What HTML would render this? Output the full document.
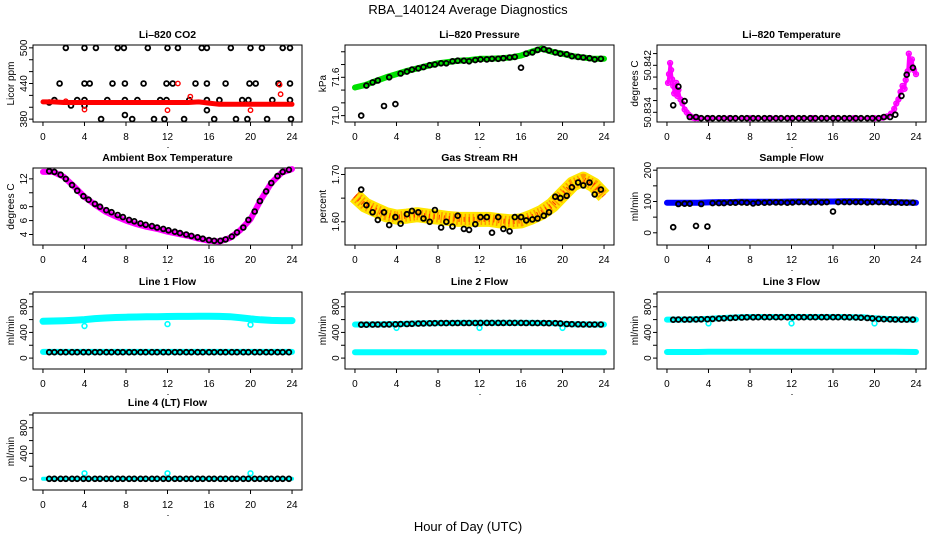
<!DOCTYPE html>
<html><head><meta charset="utf-8"><style>
html,body{margin:0;padding:0;background:#fff;}
svg{display:block;font-family:"Liberation Sans",sans-serif;}
</style></head><body>
<svg id="fig" width="936" height="540" viewBox="0 0 936 540">
<rect width="936" height="540" fill="#fff"/>
<text x="468" y="14" text-anchor="middle" font-size="13">RBA_140124  Average Diagnostics</text>
<text x="468" y="531" text-anchor="middle" font-size="13">Hour of Day (UTC)</text>
</svg>
<script>
const hours = [0,1,2,3,4,5,6,7,8,9,10,11,12,13,14,15,16,17,18,19,20,21,22,23,24];
const blackX = [0.6,1.1,1.7,2.2,2.8,3.3,3.9,4.4,5.0,5.5,6.1,6.6,7.2,7.7,8.3,8.8,9.4,9.9,10.5,11.0,11.6,12.1,12.7,13.2,13.8,14.3,14.9,15.4,16.0,16.5,17.1,17.6,18.2,18.7,19.3,19.8,20.4,20.9,21.5,22.0,22.6,23.1,23.7];
const xTicks = [0,4,8,12,16,20,24];

// CO2
const co2Red = [409,409,408,408,408,408,408,408,408,408,408,408,408,408,408,409,407,405,405,405,405,405,405,405,405];
const co2RedOutX = [2.2,4.0,12.0,13.0,14.2,20.0,22.8,22.9];
const co2RedOutY = [410,396,395,440,418,395,438,422];
const co2BlkX = [2.2,4,5.1,7.2,7.8,10.1,12,13,15.3,15.8,18.1,20,21.1,23.1,23.8, 1.6,4,4.5,6.7,7.9,9.7,11.9,12.5,14.7,15.8,17.6,19.9,20.5,22.7,23.8, 0.6,1.1,2.7,3.3,4,4,6.2,7.9,9.1,11.3,11.9,14.1,15.8,17,19.2,19.8,22.1,23.8, 5.6,8.6,10.7,11.7,13.6,16.5,18.6,19.7,21.6,23.9,7.9,15.8];
const co2BlkY = [500,500,500,500,500,500,500,500,500,500,500,500,500,500,500, 440,440,440,440,440,440,440,440,440,440,440,440,440,440,440, 408,412,403,412,412,403,412,412,412,412,412,412,412,412,412,412,412,412, 380,380,380,380,380,380,380,380,380,380,387,395];

// Pressure
const presGreen = [71.44,71.48,71.54,71.60,71.65,71.70,71.74,71.78,71.82,71.84,71.86,71.87,71.89,71.89,71.90,71.91,71.94,72.00,72.05,72.00,71.97,71.93,71.91,71.89,71.89];
const presBlk = [71.00,71.47,71.52,71.55,71.15,71.60,71.18,71.66,71.69,71.72,71.74,71.76,71.79,71.80,71.82,71.82,71.85,71.86,71.86,71.85,71.87,71.88,71.88,71.89,71.89,71.90,71.91,71.92,71.75,71.97,71.99,72.03,72.04,72.02,71.99,71.97,71.96,71.93,71.92,71.91,71.90,71.88,71.89];

// Li-820 temperature
const tMagX = [0.1,0.2,0.3,0.4,0.5,0.6,0.7,0.9,1.0,1.1,1.3,1.5,1.7,1.9,2.1,2.3,2.5,2.7,3,4,6,8,10,12,14,16,18,20,20.8,21.2,21.6,21.9,22.1,22.3,22.5,22.7,22.9,23.0,23.2,23.3,23.5,23.6,23.8,24.0];
const tMagY = [50.8390,50.8405,50.8424,50.8412,50.8396,50.8385,50.8372,50.8390,50.8368,50.8378,50.8362,50.8355,50.8345,50.8340,50.8336,50.8333,50.8331,50.8330,50.8330,50.8330,50.8330,50.8330,50.8330,50.8330,50.8330,50.8330,50.8330,50.8330,50.8331,50.8333,50.8338,50.8346,50.8355,50.8362,50.8375,50.8385,50.8380,50.8395,50.8410,50.8440,50.8420,50.8430,50.8412,50.8405];
const tBlk = [50.8352,50.8384,50.8359,50.8332,50.8332,50.8330,50.8330,50.8330,50.8330,50.8330,50.8330,50.8330,50.8330,50.8330,50.8330,50.8330,50.8330,50.8330,50.8330,50.8330,50.8330,50.8330,50.8330,50.8330,50.8330,50.8330,50.8330,50.8330,50.8330,50.8330,50.8330,50.8330,50.8330,50.8330,50.8330,50.8330,50.8330,50.8332,50.8332,50.8336,50.8368,50.8404,50.8416];

// Ambient box temperature
const boxMag = [13.0,13.0,12.3,10.9,9.4,8.3,7.3,6.6,6.0,5.5,5.1,4.8,4.4,4.1,3.8,3.4,3.1,3.0,3.5,4.6,6.2,9.0,11.4,12.9,13.4];
const boxBlk = [13.1,13.0,12.6,12.0,11.1,10.3,9.5,9.0,8.4,8.0,7.5,7.2,6.8,6.5,6.1,5.9,5.6,5.4,5.2,5.0,4.8,4.6,4.4,4.2,4.0,3.8,3.6,3.4,3.2,3.1,3.1,3.3,3.7,4.3,5.0,6.1,7.3,8.8,10.2,11.4,12.4,13.0,13.3];

// Gas stream RH
const rhBand = [1.655,1.635,1.625,1.615,1.610,1.612,1.615,1.612,1.610,1.607,1.605,1.605,1.605,1.605,1.602,1.600,1.602,1.610,1.620,1.635,1.658,1.680,1.690,1.678,1.655];
const rhBlk = [1.668,1.635,1.620,1.604,1.620,1.593,1.610,1.596,1.616,1.623,1.620,1.607,1.600,1.625,1.588,1.600,1.590,1.613,1.585,1.583,1.595,1.610,1.610,1.577,1.610,1.585,1.580,1.610,1.610,1.603,1.605,1.607,1.613,1.620,1.653,1.650,1.655,1.673,1.683,1.677,1.683,1.658,1.668];

// Sample flow
const sfBlue = [96,96,96,96,97,98,98,99,99,99,99,99,100,100,100,100,100,101,101,101,100,99,98,97,96];
const sfBlk = [18,92,93,93,22,92,20,95,95,95,96,96,97,96,94,96,96,97,97,97,96,97,98,98,97,98,97,98,68,98,98,98,98,98,97,98,98,98,97,97,96,96,96];

// Line flows
const l1Hi = [574,578,582,590,600,615,625,632,638,641,643,645,648,650,650,651,651,650,645,630,610,596,588,585,584];
const l1Lo = [97,97,97,97,97,97,97,97,97,97,97,97,97,97,97,97,97,97,97,97,97,97,97,97,97];
const l1OutX = [4,12,20];
const l1OutY = [500,530,520];
const l1Blk = [92,92,92,92,92,92,92,92,92,92,92,92,92,92,92,92,92,92,92,92,92,92,92,92,92,92,92,92,92,92,92,92,92,92,92,92,92,92,92,92,92,92,92];

const l2Hi = [523,524,525,527,530,535,540,544,546,547,548,548,549,549,549,549,549,548,547,545,535,528,525,524,523];
const l2Lo = [90,90,90,90,90,90,90,90,90,90,90,90,90,90,90,90,90,90,90,90,90,90,90,90,90];
const l2OutX = [4,12,20];
const l2OutY = [470,470,470];
const l2Blk = [520,521,522,523,524,525,526,530,532,535,538,540,542,544,545,546,546,547,547,547,547,548,548,548,548,548,548,548,548,547,547,546,545,544,543,540,532,528,526,525,524,523,523];

const l3Hi = [600,600,602,605,610,620,630,636,640,640,640,640,640,640,640,640,640,640,638,635,620,610,605,602,600];
const l3Lo = [95,95,95,95,98,98,98,98,98,98,98,98,98,98,98,98,98,98,98,98,98,98,98,96,95];
const l3OutX = [4,12,20];
const l3OutY = [540,540,540];
const l3Blk = [598,600,600,602,603,604,606,610,615,620,625,630,632,635,636,637,638,638,638,638,638,638,638,638,638,638,638,638,638,638,638,636,634,630,625,618,610,606,604,602,600,600,600];

const l4Cyan = [5,5,5,5,5,5,5,5,5,5,5,5,5,5,5,5,5,5,5,5,5,5,5,5,5];
const l4OutX = [4,12,20];
const l4OutY = [90,90,90];
const l4Blk = [5,5,5,5,5,5,5,5,5,5,5,5,5,5,5,5,5,5,5,5,5,5,5,5,5,5,5,5,5,5,5,5,5,5,5,5,5,5,5,5,5,5,5];

const NS = "http://www.w3.org/2000/svg";
const svg = document.getElementById('fig');
const W = 269, H = 77;
const rowTop = [45, 168, 292, 413];
const BR = 2.4, BW = 1.8;

function mk(tag, attrs, parent) {
  const e = document.createElementNS(NS, tag);
  for (const k in attrs) e.setAttribute(k, attrs[k]);
  (parent || svg).appendChild(e);
  return e;
}
function makePanel(col, row, title, ylab, top, bot, yTicks, yLabels, name) {
  const g = mk('g', {});
  
  
  const p = { x0: 33 + 312 * col, y0: rowTop[row], top: top, bot: bot, g: g };
  p.sx = h => p.x0 + (h + 0.96) / 25.92 * W;
  p.sy = v => p.y0 + (top - v) / (top - bot) * H;
  const t = mk('text', { x: p.x0 + W / 2, y: p.y0 - 7, 'text-anchor': 'middle', 'font-size': 10.5, 'font-weight': 'bold' }, g);
  t.textContent = title;
  
  
  const bx = mk('rect', { x: p.x0, y: p.y0, width: W, height: H, fill: 'none', stroke: '#000', 'stroke-width': 1 }, g);
  
  
  const xa = mk('g', {}, g);
  
  
  xTicks.forEach(v => {
    const x = p.sx(v);
    mk('line', { x1: x, x2: x, y1: p.y0 + H, y2: p.y0 + H + 4, stroke: '#000' }, xa);
    const tl = mk('text', { x: x, y: p.y0 + H + 18, 'text-anchor': 'middle', 'font-size': 10 }, xa);
    tl.textContent = v;
  });
  mk('rect', { x: p.x0 + W / 2, y: p.y0 + H + 25, width: 1, height: 1, fill: '#000' }, xa);
  const ya = mk('g', {}, g);
  
  
  yTicks.forEach(v => {
    const y = p.sy(v);
    mk('line', { x1: p.x0 - 4, x2: p.x0, y1: y, y2: y, stroke: '#000' }, ya);
  });
  yLabels.forEach(v => {
    const y = p.sy(v);
    const tl = mk('text', { x: 0, y: 0, 'text-anchor': 'middle', 'font-size': 10, transform: 'translate(' + (p.x0 - 6) + ',' + y + ') rotate(-90)' }, ya);
    tl.textContent = v;
  });
  const yl = mk('text', { x: 0, y: 0, 'text-anchor': 'middle', 'font-size': 10, transform: 'translate(' + (p.x0 - 19) + ',' + (p.y0 + H / 2) + ') rotate(-90)' }, g);
  yl.textContent = ylab;
  
  
  p.plot = mk('g', {}, g);
  return p;
}
function band(p, xs, ys, color, width, name) {
  const pts = xs.map((h, i) => p.sx(h).toFixed(1) + ',' + p.sy(ys[i]).toFixed(1)).join(' ');
  const pl = mk('polyline', { points: pts, fill: 'none', stroke: color, 'stroke-width': width, 'stroke-linejoin': 'round', 'stroke-linecap': 'round' }, p.plot);
  
  
  return pl;
}
function points(p, xs, ys, color, r, sw, name) {
  const g = mk('g', {}, p.plot);
  
  
  xs.forEach((h, i) => {
    const c = mk('circle', { cx: p.sx(h).toFixed(1), cy: p.sy(ys[i]).toFixed(1), r: r, fill: 'none', stroke: color, 'stroke-width': sw }, g);
    
    
  });
}
const lineTicks = [0,200,400,600,800,1000];
const lineLabels = [0,400,800];

// Panel 1: CO2
let p = makePanel(0, 0, 'Li–820 CO2', 'Licor ppm', 504.8, 375.2, [380,400,420,440,460,480,500], [380,440,500], 'co2');
points(p, co2BlkX, co2BlkY, '#000', BR, BW, 'co2-black-series');
band(p, hours, co2Red, '#ff0000', 5, 'co2-red-band');
points(p, co2RedOutX, co2RedOutY, '#ff0000', 2.2, 1.4, 'co2-red-outliers');

// Panel 2: Pressure
p = makePanel(1, 0, 'Li–820 Pressure', 'kPa', 72.106, 70.90, [71.0,71.2,71.4,71.6,71.8,72.0], ['71.0','71.6'], 'pressure');
band(p, hours, presGreen, '#00e000', 6, 'pressure-green-band');
points(p, blackX, presBlk, '#000', BR, BW, 'pressure-black-series');

// Panel 3: Li-820 Temperature
p = makePanel(2, 0, 'Li–820 Temperature', 'degrees C', 50.84546, 50.83235, [50.834,50.836,50.838,50.840,50.842,50.844], ['50.834','50.842'], 'li820-temp');
band(p, tMagX, tMagY, '#ff00ff', 3, 'li820-temp-magenta-band');
points(p, tMagX, tMagY, '#ff00ff', 2.4, 1.5, 'li820-temp-magenta-series');
points(p, blackX, tBlk, '#000', BR, BW, 'li820-temp-black-series');

// Panel 4: Ambient box temperature
p = makePanel(0, 1, 'Ambient Box Temperature', 'degrees C', 13.56, 2.49, [4,6,8,10,12], [4,6,8,12], 'box-temp');
band(p, hours, boxMag, '#ff00ff', 6, 'box-temp-magenta-band');
points(p, blackX, boxBlk, '#000', BR, BW, 'box-temp-black-series');

// Panel 5: RH
p = makePanel(1, 1, 'Gas Stream RH', 'percent', 1.7137, 1.551, [1.60,1.65,1.70], ['1.60','1.70'], 'rh');
const yb = band(p, hours, rhBand, '#ffe600', 15, 'rh-yellow-band');
yb.setAttribute('stroke-linecap', 'butt');
const rb = band(p, hours, rhBand, '#ff9900', 11, 'rh-orange-band');
rb.setAttribute('stroke-dasharray', '1.5 2.5');
rb.setAttribute('stroke-linecap', 'butt');
const rr = band(p, hours, rhBand, '#ff3300', 5, 'rh-red-speckle');
rr.setAttribute('stroke-dasharray', '1 4');
rr.setAttribute('stroke-linecap', 'butt');
points(p, blackX, rhBlk, '#000', BR, BW, 'rh-black-series');

// Panel 6: Sample flow
p = makePanel(2, 1, 'Sample Flow', 'ml/min', 207, -39, [0,50,100,150,200], [0,100,200], 'sample-flow');
band(p, hours, sfBlue, '#0000ff', 6, 'sample-flow-blue-band');
points(p, blackX, sfBlk, '#000', BR, BW, 'sample-flow-black-series');

// Panel 7: Line 1
p = makePanel(0, 2, 'Line 1 Flow', 'ml/min', 1030, -170, lineTicks, lineLabels, 'line1-flow');
band(p, hours, l1Hi, '#00ffff', 7, 'line1-cyan-high-band');
band(p, hours, l1Lo, '#00ffff', 6, 'line1-cyan-low-band');
points(p, l1OutX, l1OutY, '#00ffff', 2.4, 1.6, 'line1-cyan-outliers');
points(p, blackX, l1Blk, '#000', BR, BW, 'line1-black-series');

// Panel 8: Line 2
p = makePanel(1, 2, 'Line 2 Flow', 'ml/min', 1030, -170, lineTicks, lineLabels, 'line2-flow');
band(p, hours, l2Hi, '#00ffff', 6, 'line2-cyan-high-band');
band(p, hours, l2Lo, '#00ffff', 6, 'line2-cyan-low-band');
points(p, l2OutX, l2OutY, '#00ffff', 2.4, 1.6, 'line2-cyan-outliers');
points(p, blackX, l2Blk, '#000', BR, BW, 'line2-black-series');

// Panel 9: Line 3
p = makePanel(2, 2, 'Line 3 Flow', 'ml/min', 1030, -170, lineTicks, lineLabels, 'line3-flow');
band(p, hours, l3Hi, '#00ffff', 6, 'line3-cyan-high-band');
band(p, hours, l3Lo, '#00ffff', 6, 'line3-cyan-low-band');
points(p, l3OutX, l3OutY, '#00ffff', 2.4, 1.6, 'line3-cyan-outliers');
points(p, blackX, l3Blk, '#000', BR, BW, 'line3-black-series');

// Panel 10: Line 4
p = makePanel(0, 3, 'Line 4 (LT) Flow', 'ml/min', 1030, -170, lineTicks, lineLabels, 'line4-flow');
band(p, hours, l4Cyan, '#00ffff', 4, 'line4-cyan-band');
points(p, l4OutX, l4OutY, '#00ffff', 2.4, 1.6, 'line4-cyan-outliers');
points(p, blackX, l4Blk, '#000', BR, BW, 'line4-black-series');
</script>
</body></html>
